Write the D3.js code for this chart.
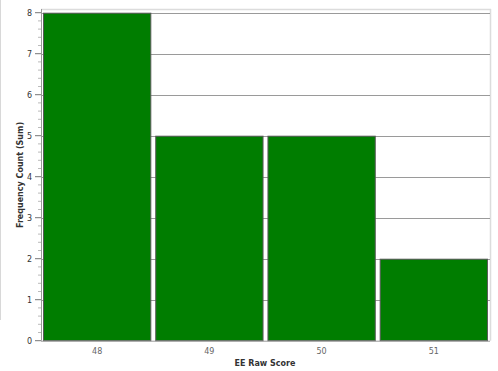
<!DOCTYPE html>
<html><head><meta charset="utf-8">
<script src="https://cdn.jsdelivr.net/npm/d3@7"></script>
<style>body{margin:0;background:#fff}svg{display:block}</style>
</head><body>
<script>
const categories = ["48", "49", "50", "51"];
const counts = [8, 5, 5, 2];
const yTicks = [0, 1, 2, 3, 4, 5, 6, 7, 8];
const xTitle = "EE Raw Score";
const yTitle = "Frequency Count (Sum)";

const W = 498, H = 371;
const m = {left: 41, right: 8, top: 12.7, bottom: 30.3};
const svg = d3.select("body").append("svg").attr("width", W).attr("height", H);

// left panel border
svg.append("line").attr("x1", 0.5).attr("x2", 0.5).attr("y1", 0).attr("y2", 320)
  .attr("stroke", "#d8d8d8");

const x = d3.scaleBand().domain(categories).range([m.left, W - m.right]).paddingInner(0.035).paddingOuter(0.018);
const y = d3.scaleLinear().domain([0, 8]).range([H - m.bottom, m.top]);

// plot frame
svg.append("line").attr("x1", m.left).attr("x2", W - m.right + 1).attr("y1", 9.5).attr("y2", 9.5).attr("stroke", "#dcdcdc").attr("stroke-width", 1.5);
svg.append("line").attr("x1", W - m.right + 0.5).attr("x2", W - m.right + 0.5).attr("y1", 9).attr("y2", y(0)).attr("stroke", "#dcdcdc").attr("stroke-width", 1.5);

// gridlines
svg.append("g").selectAll("line").data(yTicks.filter(d => d > 0)).join("line")
  .attr("x1", m.left).attr("x2", W - m.right)
  .attr("y1", d => Math.round(y(d)) + 0.5).attr("y2", d => Math.round(y(d)) + 0.5)
  .attr("stroke", "#9a9a9a").attr("stroke-width", 1);

// bars
svg.append("g").selectAll("rect").data(counts).join("rect")
  .attr("x", (d, i) => x(categories[i]) + 0.5)
  .attr("y", d => y(d) + 0.5)
  .attr("width", x.bandwidth() - 1)
  .attr("height", d => y(0) - y(d) - 0.5)
  .attr("fill", "#007d00").attr("stroke", "#5a5a5a").attr("stroke-width", 1);

// y axis
const ya = svg.append("g").attr("transform", `translate(${m.left},0)`);
ya.append("line").attr("x1", 0.5).attr("x2", 0.5).attr("y1", 9).attr("y2", y(0)).attr("stroke", "#999");
const minor = d3.range(0, 8.001, 0.2).filter(v => Math.abs(v - Math.round(v)) > 0.01);
ya.selectAll(".mn").data(minor).join("line").attr("class", "mn")
  .attr("x1", -3).attr("x2", 0).attr("y1", d => y(d)).attr("y2", d => y(d))
  .attr("stroke", "#bbb");
ya.selectAll(".mj").data(yTicks).join("line").attr("class", "mj")
  .attr("x1", -6).attr("x2", 0).attr("y1", d => y(d)).attr("y2", d => y(d))
  .attr("stroke", "#777");
ya.selectAll("text").data(yTicks).join("text")
  .attr("x", -9).attr("y", d => y(d)).attr("dy", "0.35em")
  .attr("text-anchor", "end").attr("font-family", "DejaVu Sans, sans-serif")
  .attr("font-size", 8).attr("fill", "#333").text(d => d);

// x axis
svg.append("line").attr("x1", m.left).attr("x2", W - m.right).attr("y1", y(0) + 0.5).attr("y2", y(0) + 0.5).attr("stroke", "#999");
svg.append("g").selectAll("text").data(categories).join("text")
  .attr("x", d => x(d) + x.bandwidth() / 2).attr("y", 354)
  .attr("text-anchor", "middle").attr("font-family", "DejaVu Sans, sans-serif")
  .attr("font-size", 8).attr("fill", "#666").text(d => d);

svg.append("text").attr("x", 265).attr("y", 366).attr("text-anchor", "middle")
  .attr("font-family", "DejaVu Sans, sans-serif").attr("font-size", 8).attr("font-weight", "bold")
  .attr("fill", "#333").text(xTitle);
svg.append("text").attr("transform", `translate(23,175) rotate(-90)`).attr("text-anchor", "middle")
  .attr("font-family", "DejaVu Sans, sans-serif").attr("font-size", 8).attr("font-weight", "bold")
  .attr("fill", "#333").text(yTitle);
</script>
</body></html>
